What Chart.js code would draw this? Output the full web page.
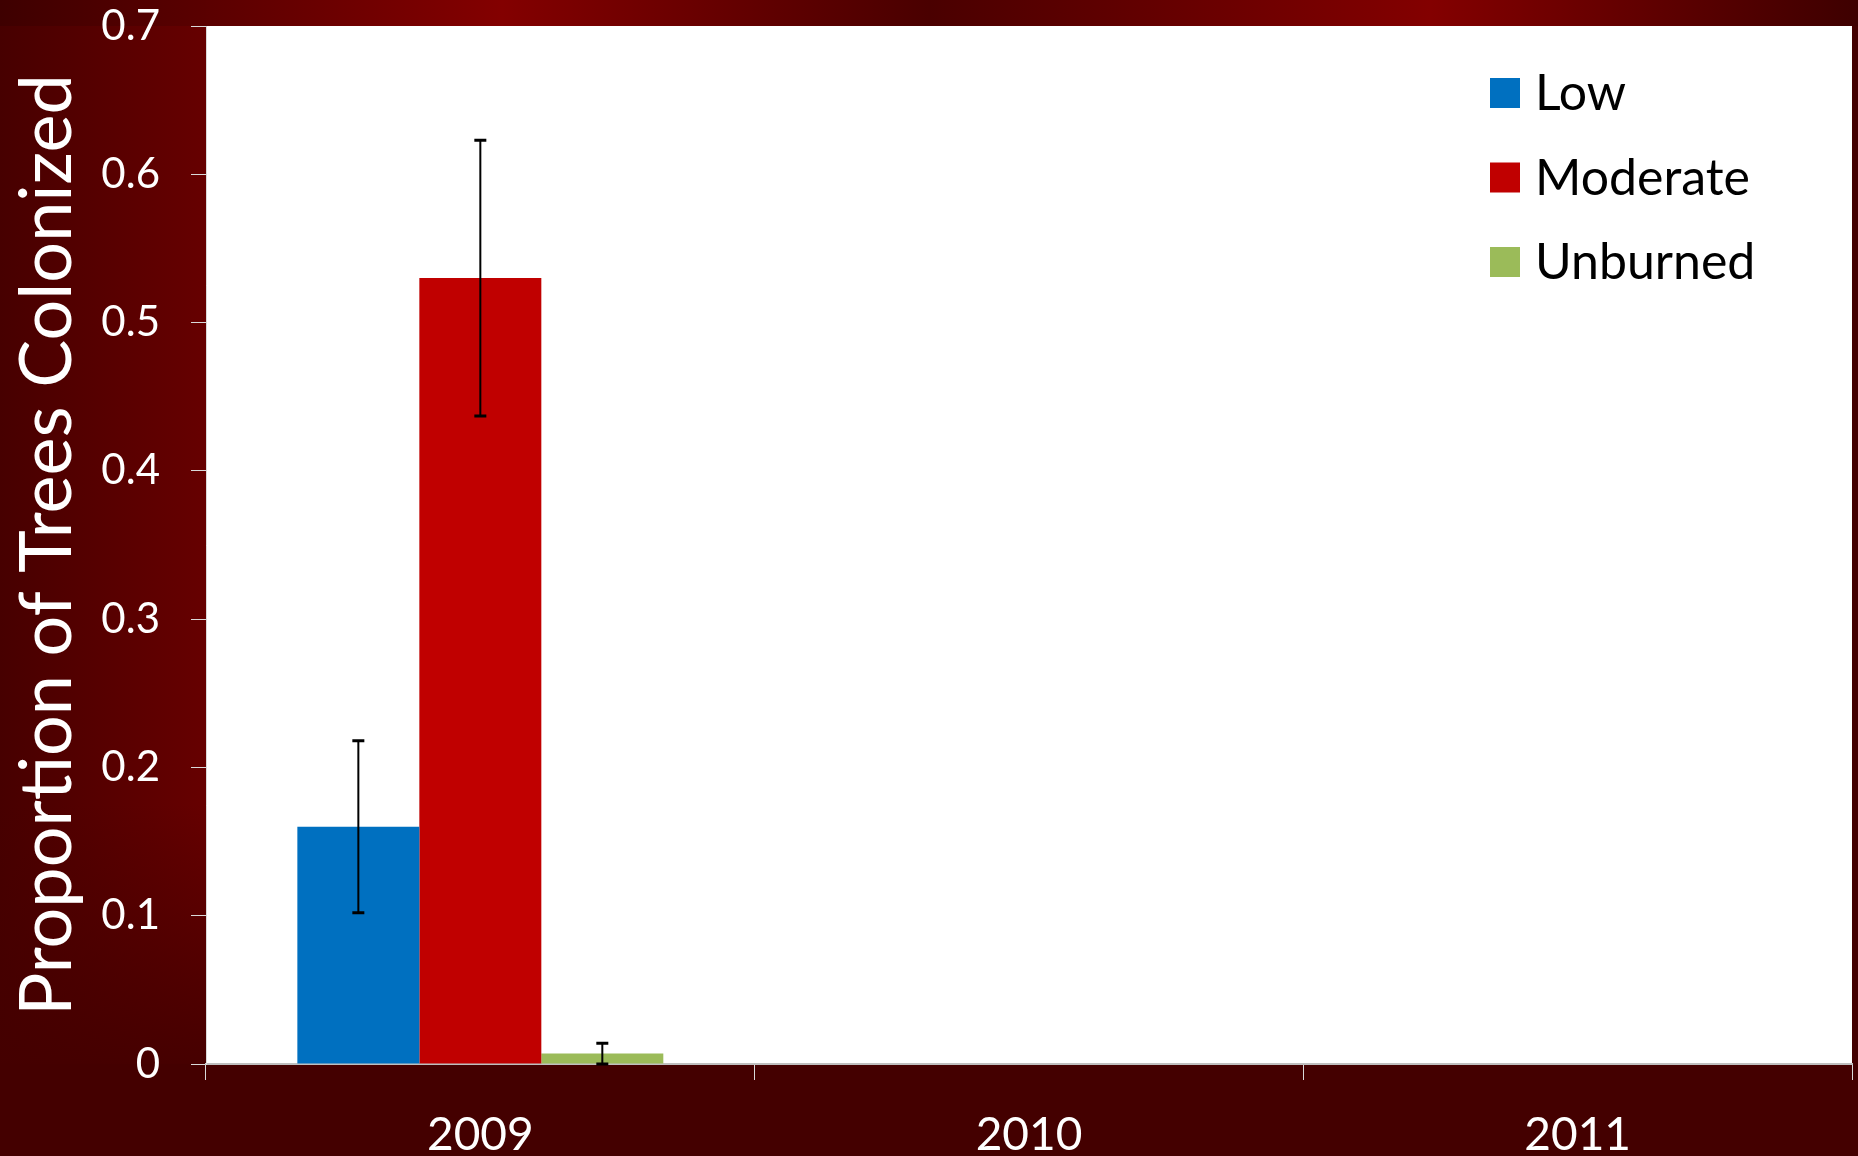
<!DOCTYPE html>
<html>
<head>
<meta charset="utf-8">
<script src="https://cdn.jsdelivr.net/npm/chart.js@4.4.1/dist/chart.umd.min.js"></script>
<style>
  html, body { margin: 0; padding: 0; background: #440000; }
  #wrap { width: 1858px; height: 1156px; }
</style>
</head>
<body>
<div id="wrap"><canvas id="chart" width="1858" height="1156"></canvas></div>
<script>
// data
const years = ['2009', '2010', '2011'];
const seriesNames = ['Low', 'Moderate', 'Unburned'];
const lowVals = [0.16, null, null];
const moderateVals = [0.53, null, null];
const unburnedVals = [0.007, null, null];
const lowErr = [0.058, null, null];
const moderateErr = [0.093, null, null];
const unburnedErr = [0.007, null, null];
const seriesColors = ['#0070C0', '#C00000', '#9BBB59'];
const yTitle = 'Proportion of Trees Colonized';

const errors = [lowErr, moderateErr, unburnedErr];

// background: dark red slide with brighter glow, white plot area
const bgPlugin = {
  id: 'bg',
  beforeDraw(chart) {
    const ctx = chart.ctx;
    const w = chart.width, h = chart.height;
    const a = chart.chartArea;
    ctx.save();
    ctx.fillStyle = '#440000';
    ctx.fillRect(0, 0, w, h);

    // left band
    let g = ctx.createLinearGradient(0, 0, a.left, 0);
    g.addColorStop(0, '#470000');
    g.addColorStop(1, '#660000');
    ctx.fillStyle = g;
    ctx.fillRect(0, 0, a.left, a.bottom);
    g = ctx.createLinearGradient(0, a.bottom - 260, 0, a.bottom + 20);
    g.addColorStop(0, 'rgba(68,0,0,0)');
    g.addColorStop(1, 'rgba(68,0,0,1)');
    ctx.fillStyle = g;
    ctx.fillRect(0, a.bottom - 260, a.left, 280);

    // top band
    g = ctx.createLinearGradient(0, 0, w, 0);
    g.addColorStop(0, '#3e0000');
    g.addColorStop(0.27, '#830000');
    g.addColorStop(0.5, '#4a0000');
    g.addColorStop(0.77, '#830000');
    g.addColorStop(1, '#3e0000');
    ctx.fillStyle = g;
    ctx.fillRect(a.left, 0, w - a.left, a.top);
    const g2 = ctx.createLinearGradient(0, 0, a.left, 0);
    g2.addColorStop(0, '#3e0000');
    g2.addColorStop(1, '#5a0000');
    ctx.fillStyle = g2;
    ctx.fillRect(0, 0, a.left, a.top);

    ctx.fillStyle = '#ffffff';
    ctx.fillRect(a.left, a.top, a.right - a.left, a.bottom - a.top);
    ctx.restore();
  }
};

// error bars with caps
const errorBarPlugin = {
  id: 'errbars',
  afterDatasetsDraw(chart) {
    const ctx = chart.ctx;
    const yScale = chart.scales.y;
    ctx.save();
    ctx.strokeStyle = '#000000';
    chart.data.datasets.forEach((ds, di) => {
      const meta = chart.getDatasetMeta(di);
      meta.data.forEach((bar, i) => {
        const v = ds.data[i];
        const e = errors[di][i];
        if (v == null || e == null) return;
        const yTop = yScale.getPixelForValue(v + e);
        const yBot = yScale.getPixelForValue(Math.max(0, v - e));
        const x = bar.x;
        ctx.lineWidth = 2;
        ctx.beginPath();
        ctx.moveTo(x, yTop);
        ctx.lineTo(x, yBot);
        ctx.stroke();
        ctx.lineWidth = 3;
        ctx.beginPath();
        ctx.moveTo(x - 6, yTop);
        ctx.lineTo(x + 6, yTop);
        ctx.moveTo(x - 6, yBot);
        ctx.lineTo(x + 6, yBot);
        ctx.stroke();
      });
    });
    ctx.restore();
  }
};

// legend inside the plot, top right
const legendPlugin = {
  id: 'insideLegend',
  afterDraw(chart) {
    const ctx = chart.ctx;
    const a = chart.chartArea;
    const x0 = a.right - 362;
    const y0 = a.top + 67;
    const step = 84.5;
    ctx.save();
    ctx.font = '50px Lato';
    ctx.textBaseline = 'middle';
    ctx.textAlign = 'left';
    chart.data.datasets.forEach((ds, i) => {
      const cy = y0 + i * step;
      ctx.fillStyle = ds.backgroundColor;
      ctx.fillRect(x0, cy - 15, 30, 30);
      ctx.fillStyle = '#000000';
      ctx.fillText(ds.label, x0 + 45, cy + 1);
    });
    ctx.restore();
  }
};

const datasets = [lowVals, moderateVals, unburnedVals].map((vals, i) => ({
  label: seriesNames[i],
  data: vals,
  backgroundColor: seriesColors[i],
  borderWidth: 0,
  categoryPercentage: 0.667,
  barPercentage: 1.0
}));

const ctx = document.getElementById('chart').getContext('2d');
new Chart(ctx, {
  type: 'bar',
  data: { labels: years, datasets: datasets },
  options: {
    responsive: false,
    animation: false,
    layout: { padding: { top: 26, right: 6, left: 0, bottom: 0 } },
    plugins: {
      legend: { display: false },
      tooltip: { enabled: false }
    },
    scales: {
      x: {
        grid: { offset: true, drawOnChartArea: false, color: '#d9d9d9', tickLength: 16, lineWidth: 1 },
        border: { color: '#bfbfbf', width: 2 },
        ticks: { color: '#ffffff', font: { family: 'Lato', size: 46 }, padding: 28 },
        afterFit(scale) {
          scale.height = 92;
          scale.paddingLeft = 0;
          scale.paddingRight = 0;
        }
      },
      y: {
        min: 0,
        max: 0.7,
        ticks: { stepSize: 0.1, color: '#ffffff', font: { family: 'Lato', size: 42 }, padding: 31 },
        grid: { drawOnChartArea: false, color: '#d9d9d9', tickLength: 15, lineWidth: 1 },
        border: { color: '#d9d9d9', width: 1 },
        title: {
          display: true,
          text: yTitle,
          color: '#ffffff',
          font: { family: 'Lato', size: 72 },
          padding: { top: 5, bottom: 0 }
        },
        afterFit(scale) {
          scale.width = 206;
          scale.paddingTop = 0;
          scale.paddingBottom = 0;
        }
      }
    }
  },
  plugins: [bgPlugin, errorBarPlugin, legendPlugin]
});
</script>
</body>
</html>
